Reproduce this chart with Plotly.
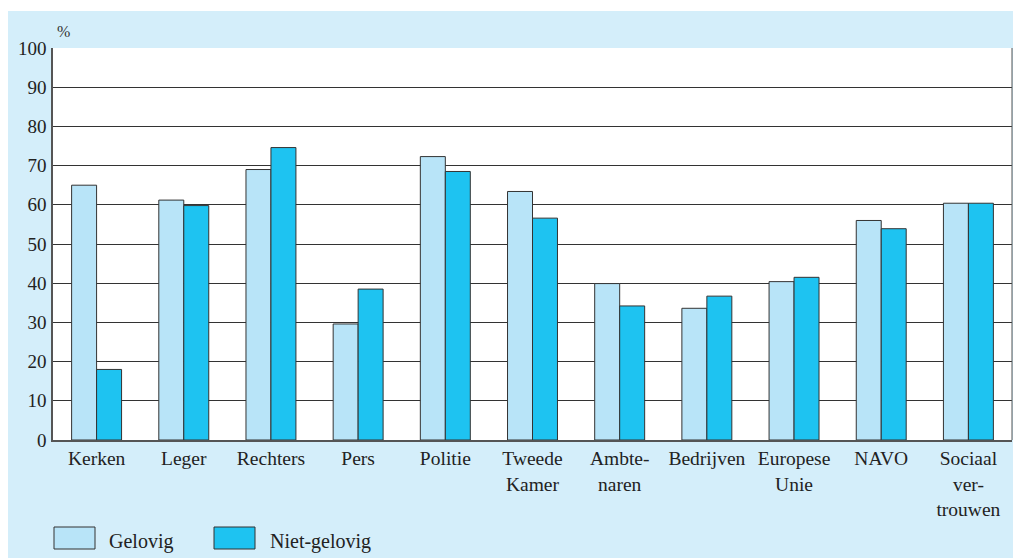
import plotly.graph_objects as go

categories = ["Kerken", "Leger", "Rechters", "Pers", "Politie", "Tweede<br>Kamer",
              "Ambte-<br>naren", "Bedrijven", "Europese<br>Unie", "NAVO", "Sociaal<br>ver-<br>trouwen"]
gelovig = [65, 61.2, 69, 29.6, 72.3, 63.4, 39.9, 33.6, 40.4, 56, 60.4]
niet_gelovig = [18, 59.8, 74.6, 38.5, 68.5, 56.6, 34.2, 36.7, 41.5, 53.9, 60.4]
y_ticks = [0, 10, 20, 30, 40, 50, 60, 70, 80, 90, 100]

W, H = 1013, 558
ML, MR, MT, MB = 53, 1, 48, 118
PW, PH = W - ML - MR, H - MT - MB

def px(x):
    return (x - ML) / PW

def py(y):
    return (H - MB - y) / PH

FONT = "Liberation Serif"
C_LIGHT = "#b8e4f8"
C_DARK = "#1ec3f1"
BG = "#d4eefa"

fig = go.Figure()
fig.add_trace(go.Bar(x=categories, y=gelovig, name="Gelovig",
                     marker=dict(color=C_LIGHT, line=dict(color="#333333", width=1))))
fig.add_trace(go.Bar(x=categories, y=niet_gelovig, name="Niet-gelovig",
                     marker=dict(color=C_DARK, line=dict(color="#333333", width=1))))

shapes = [
    dict(type="rect", xref="paper", yref="paper", x0=px(8), x1=px(W + 5), y0=py(H + 5), y1=py(11),
         fillcolor=BG, line=dict(width=0), layer="below"),
    dict(type="rect", xref="paper", yref="paper", x0=0, x1=1, y0=0, y1=1,
         fillcolor="white", line=dict(width=0), layer="below"),
    dict(type="line", xref="paper", yref="paper", x0=1, x1=1, y0=0, y1=1,
         line=dict(color="#555555", width=1)),
    # legend boxes
    dict(type="rect", xref="paper", yref="paper", x0=px(54), x1=px(95), y0=py(549), y1=py(527),
         fillcolor=C_LIGHT, line=dict(color="#333333", width=1)),
    dict(type="rect", xref="paper", yref="paper", x0=px(214), x1=px(255), y0=py(549), y1=py(527),
         fillcolor=C_DARK, line=dict(color="#333333", width=1)),
]

annotations = [
    dict(text="%", xref="paper", yref="paper", x=px(55), y=py(32), xanchor="left", yanchor="middle",
         showarrow=False, font=dict(family=FONT, size=16, color="#333333")),
    dict(text="Gelovig", xref="paper", yref="paper", x=px(107), y=py(541), xanchor="left", yanchor="middle",
         showarrow=False, font=dict(family=FONT, size=20, color="#222222")),
    dict(text="Niet-gelovig", xref="paper", yref="paper", x=px(268), y=py(541), xanchor="left", yanchor="middle",
         showarrow=False, font=dict(family=FONT, size=20, color="#222222")),
]

fig.update_layout(
    width=W, height=H,
    margin=dict(l=ML, r=MR, t=MT, b=MB, pad=0),
    paper_bgcolor="white", plot_bgcolor="rgba(0,0,0,0)",
    barmode="group", bargap=0.427, bargroupgap=0,
    showlegend=False,
    shapes=shapes, annotations=annotations,
    font=dict(family=FONT, size=19, color="#222222"),
    xaxis=dict(showgrid=False, showline=True, linecolor="#555555", linewidth=1.5,
               ticks="", tickfont=dict(family=FONT, size=19.5, color="#222222"), fixedrange=True),
    yaxis=dict(range=[0, 100], tickvals=y_ticks, ticktext=[str(t) for t in y_ticks],
               showgrid=True, gridcolor="#333333", gridwidth=1,
               showline=True, linecolor="#555555", linewidth=1.5,
               ticks="", ticklabelstandoff=1,
               zeroline=False, tickfont=dict(family=FONT, size=19, color="#222222"), fixedrange=True),
)

fig.write_html("out.html", config={"displayModeBar": False},
               post_script="document.body.style.margin='0px';document.body.style.overflow='hidden';")
